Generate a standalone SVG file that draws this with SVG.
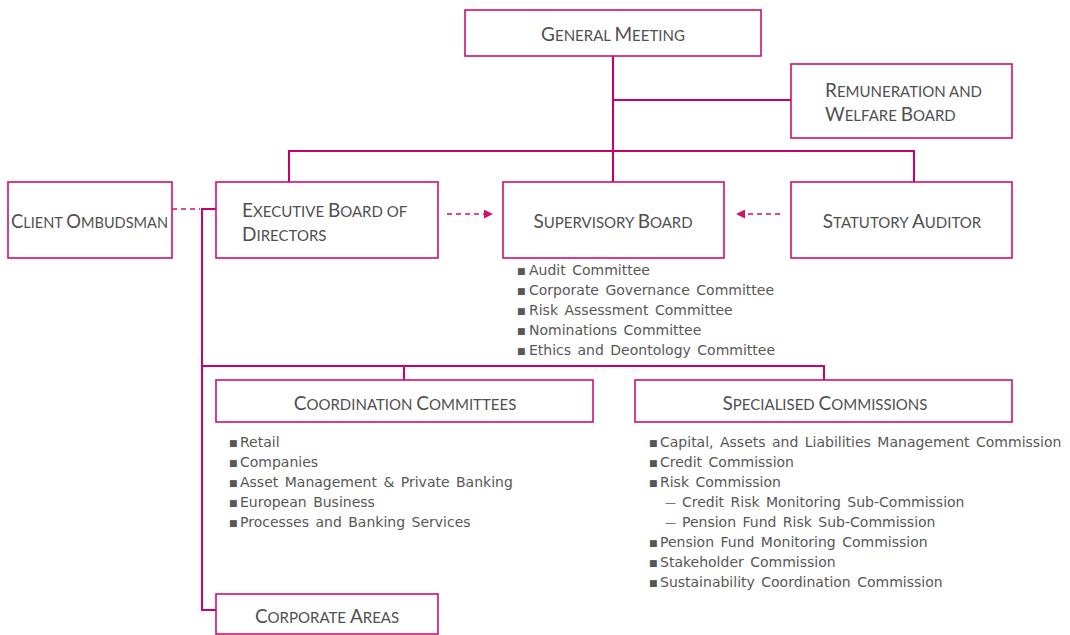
<svg xmlns="http://www.w3.org/2000/svg" width="1070" height="635" viewBox="0 0 1070 635">
<style>
.box{fill:#fff;stroke:#d0106e;stroke-width:1.6}
.t{font-family:Lato,"Liberation Sans",sans-serif;font-size:19px;fill:#505050}
.t tspan.s{font-size:15px}
.ln{fill:none;stroke:#c8006e;stroke-width:2}
.dl{fill:none;stroke:#d0106e;stroke-width:1.5;stroke-dasharray:5 4}
.li{font-family:"DejaVu Sans",Verdana,sans-serif;font-size:14px;fill:#575757;word-spacing:2px}
.b{font-family:"DejaVu Sans",sans-serif;font-size:9px;fill:#575757}
.d{font-family:"DejaVu Sans",sans-serif;font-size:11px;fill:#575757}
</style>
<defs>
<marker id="ah" viewBox="0 0 10 10" refX="9" refY="5" markerWidth="9" markerHeight="9" markerUnits="userSpaceOnUse" orient="auto">
<path d="M0,0 L10,5 L0,10 z" fill="#d0106e"/>
</marker>
</defs>
<g id="connectors">
<path class="ln" d="M613,56 V182 M613,100 H791 M289,182 V151 H914 V182"/>
<path class="ln" d="M216,209 H202 V610 H216 M202,366 H824 V380 M404,366 V380"/>
<path class="dl" d="M172,209 H200"/>
<path class="dl" d="M447,214 H492" marker-end="url(#ah)"/>
<path class="dl" d="M780,214 H737" marker-end="url(#ah)"/>
</g>
<g id="general-meeting">
<rect class="box" x="465" y="10" width="296" height="46"/>
<text class="t" x="613" y="41" text-anchor="middle">G<tspan class="s">ENERAL </tspan>M<tspan class="s">EETING</tspan></text>
</g>
<g id="remuneration">
<rect class="box" x="791" y="64" width="221" height="74"/>
<text class="t" x="825" y="97">R<tspan class="s">EMUNERATION AND</tspan></text>
<text class="t" x="825" y="121">W<tspan class="s">ELFARE </tspan>B<tspan class="s">OARD</tspan></text>
</g>
<g id="client-ombudsman">
<rect class="box" x="8" y="182" width="164" height="76"/>
<text class="t" x="11" y="228" textLength="157" lengthAdjust="spacingAndGlyphs">C<tspan class="s">LIENT </tspan>O<tspan class="s">MBUDSMAN</tspan></text>
</g>
<g id="executive-board">
<rect class="box" x="216" y="182" width="222" height="76"/>
<text class="t" x="242" y="217">E<tspan class="s">XECUTIVE </tspan>B<tspan class="s">OARD OF</tspan></text>
<text class="t" x="242" y="241">D<tspan class="s">IRECTORS</tspan></text>
</g>
<g id="supervisory-board">
<rect class="box" x="503" y="182" width="221" height="76"/>
<text class="t" x="613" y="228" text-anchor="middle">S<tspan class="s">UPERVISORY </tspan>B<tspan class="s">OARD</tspan></text>
<text class="b" x="517" y="274">■</text><text class="li" x="529" y="275">Audit Committee</text>
<text class="b" x="517" y="294">■</text><text class="li" x="529" y="295">Corporate Governance Committee</text>
<text class="b" x="517" y="314">■</text><text class="li" x="529" y="315">Risk Assessment Committee</text>
<text class="b" x="517" y="334">■</text><text class="li" x="529" y="335">Nominations Committee</text>
<text class="b" x="517" y="354">■</text><text class="li" x="529" y="355">Ethics and Deontology Committee</text>
</g>
<g id="statutory-auditor">
<rect class="box" x="791" y="182" width="221" height="76"/>
<text class="t" x="902" y="228" text-anchor="middle">S<tspan class="s">TATUTORY </tspan>A<tspan class="s">UDITOR</tspan></text>
</g>
<g id="coordination-committees">
<rect class="box" x="216" y="380" width="377" height="42"/>
<text class="t" x="405" y="410" text-anchor="middle">C<tspan class="s">OORDINATION </tspan>C<tspan class="s">OMMITTEES</tspan></text>
<text class="b" x="229" y="446">■</text><text class="li" x="240" y="447">Retail</text>
<text class="b" x="229" y="466">■</text><text class="li" x="240" y="467">Companies</text>
<text class="b" x="229" y="486">■</text><text class="li" x="240" y="487">Asset Management &amp; Private Banking</text>
<text class="b" x="229" y="506">■</text><text class="li" x="240" y="507">European Business</text>
<text class="b" x="229" y="526">■</text><text class="li" x="240" y="527">Processes and Banking Services</text>
</g>
<g id="specialised-commissions">
<rect class="box" x="635" y="380" width="377" height="42"/>
<text class="t" x="825" y="410" text-anchor="middle">S<tspan class="s">PECIALISED </tspan>C<tspan class="s">OMMISSIONS</tspan></text>
<text class="b" x="649" y="446">■</text><text class="li" x="660" y="447">Capital, Assets and Liabilities Management Commission</text>
<text class="b" x="649" y="466">■</text><text class="li" x="660" y="467">Credit Commission</text>
<text class="b" x="649" y="486">■</text><text class="li" x="660" y="487">Risk Commission</text>
<text class="d" x="665" y="506">—</text><text class="li" x="682" y="507">Credit Risk Monitoring Sub-Commission</text>
<text class="d" x="665" y="526">—</text><text class="li" x="682" y="527">Pension Fund Risk Sub-Commission</text>
<text class="b" x="649" y="546">■</text><text class="li" x="660" y="547">Pension Fund Monitoring Commission</text>
<text class="b" x="649" y="566">■</text><text class="li" x="660" y="567">Stakeholder Commission</text>
<text class="b" x="649" y="586">■</text><text class="li" x="660" y="587">Sustainability Coordination Commission</text>
</g>
<g id="corporate-areas">
<rect class="box" x="216" y="594" width="222" height="40"/>
<text class="t" x="327" y="623" text-anchor="middle">C<tspan class="s">ORPORATE </tspan>A<tspan class="s">REAS</tspan></text>
</g>
</svg>
